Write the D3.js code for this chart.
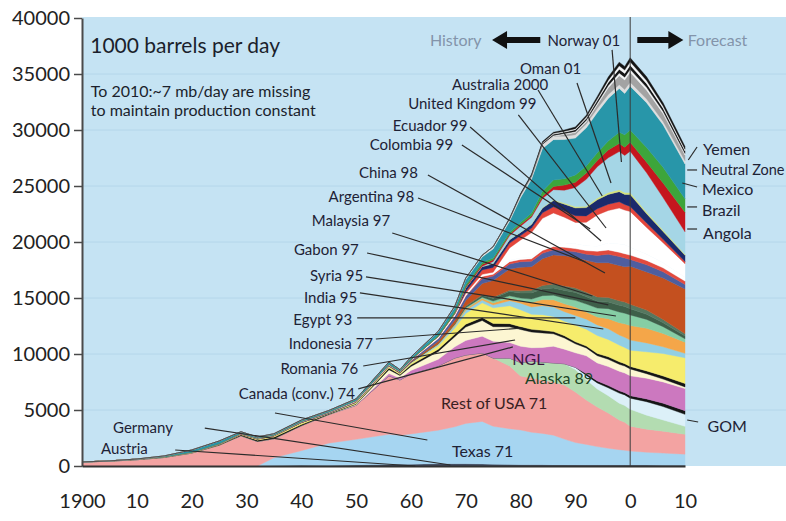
<!DOCTYPE html>
<html>
<head>
<meta charset="utf-8">
<script src="https://cdn.jsdelivr.net/npm/d3@7"></script>
<style>
  body { margin: 0; background: #fff; }
  text { font-family: Lato, "Open Sans", sans-serif; }
</style>
</head>
<body>
<svg id="chart" width="786" height="521"></svg>
<script>
// years (history to 2000, forecast to 2010)
const years = [1900,1905,1910,1915,1920,1925,1929,1932,1935,1940,1945,1950,1956,1958,1960,1965,1968,1970,1973,1975,1978,1980,1982,1984,1986,1988,1990,1992,1994,1996,1998,1999,2000,2003,2006,2010];

// 1000 barrels per day, one array per band, bottom of the stack first
const austria     = [0,0,0,0,0,0,0,0,10,10,20,40,60,60,50,50,50,50,40,40,30,30,30,30,20,20,20,20,20,20,20,20,20,20,20,20];
const germany     = [0,0,0,0,0,0,0,0,20,60,20,40,70,90,110,150,150,150,140,110,100,90,80,80,80,80,70,60,60,60,60,60,60,60,50,40];
const texas       = [0,0,0,0,0,0,0,0,700,1300,2000,2300,2700,2600,2700,3000,3300,3600,3800,3400,3200,3100,2900,2800,2650,2300,2000,1850,1650,1500,1380,1320,1250,1150,1080,1000];
const restOfUSA   = [350,430,560,760,1150,1850,2700,2190,1700,2220,2550,3035,5220,4930,5370,5730,6140,6110,6110,6090,5600,4820,4850,4770,4750,4830,4520,3960,3540,3150,2650,2500,2230,2060,1960,1770];
const alaska      = [0,0,0,0,0,0,0,0,0,0,0,0,0,0,0,0,0,0,0,0,700,1200,1500,1600,1700,1900,2000,1800,1600,1550,1500,1500,1500,1250,1000,710];
const gom         = [0,0,0,0,0,0,0,0,0,0,0,0,0,0,0,0,0,0,0,0,0,0,0,0,0,0,200,400,550,700,900,950,1000,1200,1200,1070];
const gomDeep     = [0,0,0,0,0,0,0,0,0,0,0,0,0,0,0,0,0,0,0,0,0,0,0,0,0,0,0,150,180,200,200,200,220,250,300,330];
const ngl         = [0,0,0,0,0,0,0,0,0,0,0,30,200,150,300,600,1000,1300,1500,1500,1400,1450,1200,1300,1500,1300,1300,1600,1600,1700,1750,1750,1770,1850,1900,1970];
const canada      = [0,0,0,0,0,0,0,0,0,0,0,60,350,250,350,700,900,1200,1400,1300,1400,1500,1400,1300,1100,1000,800,700,650,650,620,620,620,400,250,150];
const romania     = [5,10,25,30,20,40,80,120,140,110,80,60,150,100,150,200,230,250,280,290,280,250,240,230,200,200,180,170,200,220,220,220,220,250,280,300];
const indonesia   = [5,15,30,30,50,60,80,100,120,150,20,100,150,100,150,300,550,950,1300,1400,1600,1500,1350,1400,1350,1300,1500,1500,1600,1550,1500,1450,1450,1700,2000,2300];
const egypt       = [0,0,0,0,0,0,0,0,0,20,30,40,30,30,50,120,200,300,250,250,450,600,650,800,850,850,850,900,950,950,900,900,900,800,600,400];
const india       = [0,0,0,0,0,0,0,0,0,0,0,0,0,0,10,60,120,140,150,170,230,200,400,550,650,700,750,650,700,900,1100,1200,1300,1300,1200,1000];
const syria       = [0,0,0,0,0,0,0,0,0,0,0,0,0,0,0,0,20,80,100,180,200,250,300,350,400,500,600,700,800,900,950,950,950,800,600,300];
const gabon       = [0,0,0,0,0,0,0,0,0,0,0,0,0,0,20,30,50,100,150,230,400,450,550,600,650,700,700,650,600,600,600,600,550,450,350,250];
const malaysia    = [0,0,0,0,0,0,0,0,0,0,0,0,0,0,0,0,20,50,80,100,100,200,250,300,350,400,400,400,400,400,400,400,400,380,300,200];
const china       = [0,0,0,0,0,0,0,0,0,0,0,0,0,20,50,200,300,500,1000,1500,1900,2100,2100,2400,2600,2700,2750,2850,3050,3100,3150,3150,3400,3400,3700,4000];
const argentina   = [0,0,0,0,10,20,30,40,40,60,60,60,70,60,100,250,350,400,420,400,450,500,490,480,450,450,480,550,650,750,800,780,600,650,550,400];
const ecuador     = [0,0,0,0,0,0,0,0,0,0,0,0,0,0,0,0,0,5,200,160,200,200,210,250,290,300,290,320,370,390,380,380,390,380,350,300];
const colombia    = [0,0,0,0,0,10,40,40,40,50,50,80,80,50,80,180,180,220,190,160,130,130,140,170,300,380,440,430,450,620,750,800,700,550,450,350];
const uk          = [0,0,0,0,0,0,0,0,0,0,0,0,0,0,0,0,0,0,0,30,1100,1600,2200,2700,2700,2300,1900,2100,2800,2900,3200,3100,3200,2400,1800,1200];
const australia   = [0,0,0,0,0,0,0,0,0,0,0,0,0,0,0,10,40,170,400,420,430,400,400,500,550,550,600,570,550,560,560,500,450,400,300,200];
const oman        = [0,0,0,0,0,0,0,0,0,0,0,0,0,0,0,0,50,330,300,340,310,280,330,420,560,620,690,740,800,880,900,900,1050,820,700,550];
const minor       = [0,0,0,0,0,0,0,0,0,0,0,0,0,0,0,0,0,0,0,0,10,30,40,50,70,100,120,130,150,170,180,180,180,160,130,100];
const norway      = [0,0,0,0,0,0,0,0,0,0,0,0,0,0,0,0,0,0,30,190,350,530,600,800,900,1150,1700,2400,2800,3100,3400,3300,3700,3500,2900,2000];
const angola      = [0,0,0,0,0,0,0,0,0,0,0,0,0,0,0,10,15,100,160,150,130,150,130,200,280,450,470,550,550,700,730,740,800,950,1300,1750];
const brazil      = [0,0,0,0,0,0,0,0,0,0,0,5,10,20,40,90,150,170,170,170,160,190,260,460,590,570,650,640,690,800,1000,1100,1100,1300,1400,1200];
const mexico      = [0,0,10,80,200,250,130,100,110,120,120,150,200,120,180,300,350,450,500,800,1000,2200,3000,3800,3600,3500,3300,3400,3600,3800,3900,3700,3900,4000,3800,3100];
const neutralZone = [0,0,0,0,0,0,0,0,0,0,0,0,0,20,20,60,100,150,150,200,200,200,200,300,300,300,300,350,350,350,350,350,360,330,300,300];
const yemen       = [0,0,0,0,0,0,0,0,0,0,0,0,0,0,0,0,0,0,0,0,0,0,0,0,0,150,190,200,350,600,800,850,890,800,700,500];
const edge1       = [0,0,0,0,0,0,0,0,0,0,0,0,0,0,0,0,0,0,0,0,0,50,60,80,80,80,100,120,150,200,250,250,270,250,200,150];
const edge2       = [0,0,0,0,0,0,0,0,0,0,0,0,0,0,0,0,0,0,0,0,40,60,80,100,100,120,150,170,220,280,330,330,360,330,280,220];
const edge3       = [0,0,0,0,0,0,0,0,0,0,0,0,0,0,0,0,0,0,0,0,0,0,30,50,80,80,100,120,150,200,300,300,300,280,200,150];
const edge4       = [0,0,0,0,0,0,0,0,0,0,0,0,0,0,0,0,0,0,0,0,30,60,80,100,100,120,150,170,220,280,330,330,360,330,280,250];

const series = {
  austria, germany, texas, restOfUSA, alaska, gom, gomDeep, ngl, canada, romania,
  indonesia, egypt, india, syria, gabon, malaysia, china, argentina, ecuador, colombia,
  uk, australia, oman, minor, norway, angola, brazil, mexico, neutralZone, yemen,
  edge1, edge2, edge3, edge4
};
const keys = Object.keys(series);

const yTicks = [0,5000,10000,15000,20000,25000,30000,35000,40000];
const xTicks = [1900,1910,1920,1930,1940,1950,1960,1970,1980,1990,2000,2010];

const colors = {
  austria:'#27304f', germany:'#3c4356', texas:'#a6d5f1', restOfUSA:'#f3a3a2', alaska:'#b3dcb1',
  gom:'#dcf0f8', gomDeep:'#151515', ngl:'#cc78bf', canada:'#fcf6d2', romania:'#151515',
  indonesia:'#f6ec6c', egypt:'#92cfe4', india:'#f4a649', syria:'#86cea5', gabon:'#3e5f49',
  malaysia:'#56775f', china:'#c4501f', argentina:'#4e5e9f', ecuador:'#e24a3e', colombia:'#ffffff',
  uk:'#ffffff', australia:'#e4463b', oman:'#1b2a6c', minor:'#d6e27c', norway:'#a5d6e6',
  angola:'#c5161e', brazil:'#3da53b', mexico:'#2896a9', neutralZone:'#dedede', yemen:'#a3a3a3',
  edge1:'#f2f2f2', edge2:'#141414', edge3:'#f4f4f4', edge4:'#141414'
};

const W = 786;
const x = d3.scaleLinear().domain([1900, 2010]).range([82, 685]);
const y = d3.scaleLinear().domain([0, 40000]).range([466, 18]);
const svg = d3.select('#chart');

// light blue plot background and faint grid
svg.append('rect')
  .attr('x', x(1900)).attr('y', y(40000) - 1)
  .attr('width', W - x(1900)).attr('height', y(0) - y(40000) + 1)
  .attr('fill', '#c5e3f3');
svg.append('g').selectAll('line')
  .data(yTicks.slice(1, -1))
  .join('line')
  .attr('x1', x(1900)).attr('x2', W)
  .attr('y1', d => y(d)).attr('y2', d => y(d))
  .attr('stroke', '#b4d6ea').attr('stroke-width', 1);

// stacked bands
const rows = years.map((yr, i) => {
  const r = { year: yr };
  keys.forEach(k => { r[k] = series[k][i]; });
  return r;
});
const stacked = d3.stack().keys(keys)(rows);
const area = d3.area()
  .x(d => x(d.data.year))
  .y0(d => y(d[0]))
  .y1(d => y(d[1]));

svg.append('g').selectAll('path')
  .data(stacked)
  .join('path')
  .attr('d', area)
  .attr('fill', d => colors[d.key])
  .attr('stroke', d => colors[d.key])
  .attr('stroke-width', 0.4);

// history / forecast divider
svg.append('line')
  .attr('x1', x(2000)).attr('x2', x(2000))
  .attr('y1', y(0)).attr('y2', y(40000) - 1)
  .attr('stroke', '#3a3a3a').attr('stroke-width', 1);

// axes
const yAxis = svg.append('g')
  .attr('transform', `translate(${x(1900)},0)`)
  .call(d3.axisLeft(y).tickValues(yTicks).tickFormat(d3.format('d'))
    .tickSize(8).tickSizeOuter(0).tickPadding(4));
yAxis.select('.domain').attr('stroke', '#4a4a4a').attr('stroke-width', 2);
yAxis.selectAll('.tick line').attr('stroke', '#4a4a4a').attr('stroke-width', 1.5);
yAxis.selectAll('.tick text').attr('font-size', 20).attr('fill', '#222');

const xAxis = svg.append('g')
  .attr('transform', `translate(0,${y(0)})`)
  .call(d3.axisBottom(x).tickValues(xTicks)
    .tickFormat(d => d === 1900 ? '1900' : String(d % 100))
    .tickSize(0).tickSizeOuter(0).tickPadding(28));
xAxis.select('.domain').attr('stroke', '#333').attr('stroke-width', 2);
xAxis.selectAll('.tick text').attr('font-size', 20).attr('fill', '#222');

// annotations
const notes = svg.append('g');
notes.append('text')
  .attr('x', x(1901.5)).attr('y', y(37590))
  .attr('dominant-baseline', 'central')
  .attr('font-size', 21).attr('fill', '#1b1f2c')
  .text('1000 barrels per day');
notes.append('text')
  .attr('x', x(1901.6)).attr('y', y(33570))
  .attr('dominant-baseline', 'central')
  .attr('font-size', 16).attr('fill', '#1b1f2c')
  .text('To 2010:~7 mb/day are missing');
notes.append('text')
  .attr('x', x(1901.6)).attr('y', y(31790))
  .attr('dominant-baseline', 'central')
  .attr('font-size', 16).attr('fill', '#1b1f2c')
  .text('to maintain production constant');

// history / forecast arrows
const arrowY = y(38040);
function arrow(tip, tail) {
  const dir = Math.sign(tail - tip);
  const hb = tip + dir * 15;
  return `M${tip},${arrowY}L${hb},${arrowY - 9}L${hb},${arrowY - 3}L${tail},${arrowY - 3}` +
         `L${tail},${arrowY + 3}L${hb},${arrowY + 3}L${hb},${arrowY + 9}Z`;
}
notes.append('path').attr('d', arrow(x(1974.8), x(1983.6))).attr('fill', '#111');
notes.append('path').attr('d', arrow(x(2009.7), x(2001.3))).attr('fill', '#111');
notes.append('text')
  .attr('x', x(1972.9)).attr('y', arrowY).attr('text-anchor', 'end')
  .attr('dominant-baseline', 'central').attr('font-size', 16).attr('fill', '#8394aa')
  .text('History');
notes.append('text')
  .attr('x', x(2010.5)).attr('y', arrowY)
  .attr('dominant-baseline', 'central').attr('font-size', 16).attr('fill', '#8394aa')
  .text('Forecast');

// band labels with leader lines (positions in years / kb per day)
const labels = [
  { text: 'Norway 01', at: [1984.9, 38040], anchor: 'start', size: 15, lines: [[1996.7, 37150, 1998.4, 27140]] },
  { text: 'Oman 01', at: [1979.9, 35540], anchor: 'start', size: 15, lines: [[1990.3, 34200, 1996.5, 25270]] },
  { text: 'Australia 2000', at: [1967.5, 34110], anchor: 'start', size: 15, lines: [[1983.2, 33570, 1994.9, 24110]] },
  { text: 'United Kingdom 99', at: [1959.5, 32410], anchor: 'start', size: 15, lines: [[1979.6, 31340, 1995.6, 21250]] },
  { text: 'Ecuador 99', at: [1970.3, 30450], anchor: 'end', size: 15, lines: [[1970.8, 30270, 1994.7, 20090]] },
  { text: 'Colombia 99', at: [1967.7, 28750], anchor: 'end', size: 15, lines: [[1969.3, 28660, 1992.7, 21160]] },
  { text: 'China 98', at: [1961.3, 26250], anchor: 'end', size: 15, lines: [[1963.1, 25980, 1995.4, 17230]] },
  { text: 'Argentina 98', at: [1960.6, 24110], anchor: 'end', size: 15, lines: [[1961.3, 23930, 1991.8, 18220]] },
  { text: 'Malaysia 97', at: [1956.2, 21970], anchor: 'end', size: 15, lines: [[1956.6, 20800, 1993.1, 15180]] },
  { text: 'Gabon 97', at: [1950.5, 19380], anchor: 'end', size: 15, lines: [[1952.0, 19020, 1996.0, 14380]] },
  { text: 'Syria 95', at: [1951.3, 17050], anchor: 'end', size: 15, lines: [[1951.8, 16880, 1997.4, 13390]] },
  { text: 'India 95', at: [1950.2, 15090], anchor: 'end', size: 15, lines: [[1950.7, 15450, 1995.1, 12230]] },
  { text: 'Egypt 93', at: [1949.3, 13130], anchor: 'end', size: 15, lines: [[1950.2, 13220, 1990.0, 13220]] },
  { text: 'Indonesia 77', at: [1953.1, 10980], anchor: 'end', size: 15, lines: [[1953.6, 11340, 1980.5, 12320]] },
  { text: 'Romania 76', at: [1950.4, 8750], anchor: 'end', size: 15, lines: [[1951.3, 8930, 1979.0, 11250]] },
  { text: 'Canada (conv.) 74', at: [1949.8, 6520], anchor: 'end', size: 15,
    lines: [[1950.4, 6880, 1978.6, 10630], [1935.2, 4730, 1963.0, 2320]] },
  { text: 'Germany', at: [1916.6, 3480], anchor: 'end', size: 15, lines: [[1922.4, 3390, 1967.2, 90]] },
  { text: 'Austria', at: [1912.0, 1610], anchor: 'end', size: 15, lines: [[1917.0, 1430, 1960.8, 0]] },
  { text: 'NGL', at: [1978.5, 9640], anchor: 'start', size: 16, color: '#3b1740', lines: [] },
  { text: 'Alaska 89', at: [1980.8, 7860], anchor: 'start', size: 16, color: '#1d4526', lines: [] },
  { text: 'Rest of USA 71', at: [1965.5, 5710], anchor: 'start', size: 16, color: '#3a1f22', lines: [] },
  { text: 'Texas 71', at: [1967.5, 1340], anchor: 'start', size: 16, lines: [] },
  { text: 'GOM', at: [2014.1, 3660], anchor: 'start', size: 16, lines: [[2010.4, 4110, 2012.4, 3930]] },
  { text: 'Angola', at: [2013.3, 20890], anchor: 'start', size: 16, lines: [[2010.4, 21160, 2012.2, 21160]] },
  { text: 'Brazil', at: [2013.1, 22860], anchor: 'start', size: 16, lines: [[2010.4, 23130, 2012.2, 23130]] },
  { text: 'Mexico', at: [2013.1, 24820], anchor: 'start', size: 16, lines: [[2009.5, 25270, 2012.2, 24910]] },
  { text: 'Neutral Zone', at: [2012.9, 26430], anchor: 'start', size: 14.5, lines: [[2010.4, 26430, 2012.2, 26430]] },
  { text: 'Yemen', at: [2013.3, 28390], anchor: 'start', size: 16, lines: [[2010.6, 27320, 2012.2, 28480]] }
];

const lab = svg.append('g');
labels.forEach(l => {
  l.lines.forEach(s => {
    lab.append('line')
      .attr('x1', x(s[0])).attr('y1', y(s[1]))
      .attr('x2', x(s[2])).attr('y2', y(s[3]))
      .attr('stroke', '#2b2b2b').attr('stroke-width', 1.2);
  });
  lab.append('text')
    .attr('x', x(l.at[0])).attr('y', y(l.at[1]))
    .attr('text-anchor', l.anchor)
    .attr('dominant-baseline', 'central')
    .attr('font-size', l.size)
    .attr('fill', l.color || '#1e2235')
    .text(l.text);
});
</script>
</body>
</html>
